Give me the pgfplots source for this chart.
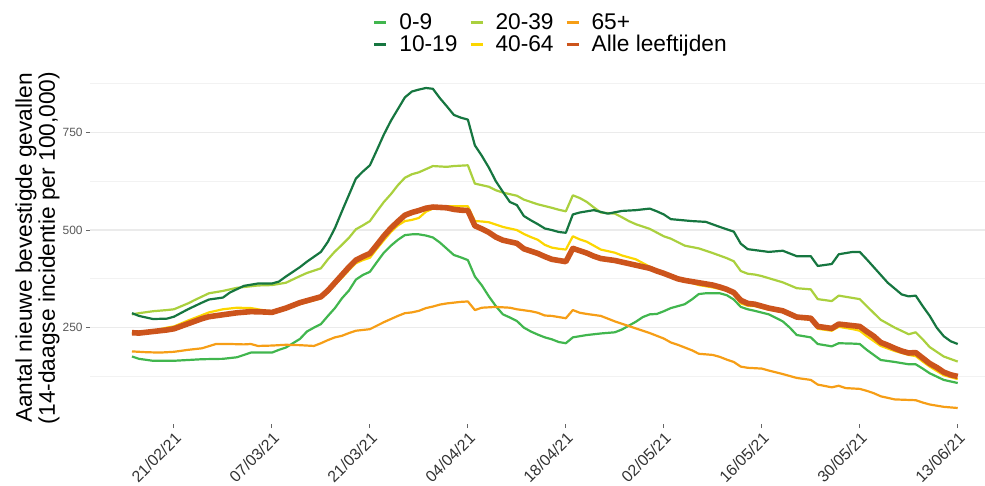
\documentclass[border=0pt]{standalone}
\usepackage{fontspec}
\setmainfont{Liberation Sans}
\usepackage{pgfplots}
\pgfplotsset{compat=1.18}
\definecolor{cA}{RGB}{65,182,78}
\definecolor{cB}{RGB}{22,118,64}
\definecolor{cC}{RGB}{170,208,62}
\definecolor{cD}{RGB}{252,214,0}
\definecolor{cE}{RGB}{246,158,22}
\definecolor{cF}{RGB}{204,84,28}
\newcommand{\pre}{\rule{5.5bp}{0pt}}
\newcommand{\post}{\rule{5.5bp}{0pt}}
\begin{document}
\begin{tikzpicture}
\begin{axis}[
  width=447.5bp, height=176bp, scale only axis,
  xmin=-6, xmax=121.9, ymin=3, ymax=905,
  axis line style={draw=none},
  xtick={6,20,34,48,62,76,90,104,118},
  xticklabels={21/02/21,07/03/21,21/03/21,04/04/21,18/04/21,02/05/21,16/05/21,30/05/21,13/06/21},
  ytick={250,500,750}, minor ytick={125,375,625,875},
  ymajorgrids, yminorgrids,
  major grid style={color=black!8, line width=0.6bp},
  minor grid style={color=black!5, line width=0.5bp},
  xtick pos=bottom, ytick pos=left, tick align=outside,
  major tick length=2bp, minor tick length=0pt,
  tick style={color=black!60, line width=0.5bp},
  /pgf/number format/assume math mode=true,
  xticklabel style={rotate=45, anchor=north east, font=\fontsize{8}{9}\selectfont, text=black!80, inner sep=1bp},
  yticklabel style={font=\fontsize{6}{7}\selectfont, text=black!65, inner sep=1.5bp},
  every axis y label/.style={at={(axis description cs:-0.0586,0.5)}, rotate=90, anchor=center, align=center, font=\fontsize{11.4}{11.5}\selectfont},
  ylabel={Aantal nieuwe bevestigde gevallen\\(14-daagse incidentie per 100,000)},
  legend columns=3,
  legend cell align=left,
  legend image code/.code={\draw[#1, line width=1.6bp, line cap=butt] (0bp,3.7bp) -- (6bp,3.7bp);},
  legend style={at={(axis description cs:0.316,1)}, anchor=south west, yshift=7.5bp, draw=none, fill=none, inner sep=0pt, outer sep=0pt,
    font=\fontsize{11.4}{13}\selectfont,
    nodes={inner sep=0.2bp, text height=8.2bp, text depth=2.4bp, anchor=base west}},
  every axis plot/.append style={line width=1.1bp, line join=round},
]
% 0-9
\addplot[cA] coordinates {(0,176)(1,170)(3,165)(6,165)(8,167)(10,169)(13,170)(15,174)(17,186)(20,186)(21,193)(22,199)(23,210)(24,221)(25,240)(26,250)(27,259)(28,280)(29,300)(30,325)(31,345)(32,373)(33,385)(34,393)(35,418)(36,442)(37,460)(38,475)(39,487)(40,489)(41,489)(42,486)(43,481)(44,468)(45,452)(46,436)(47,430)(48,423)(49,381)(50,358)(51,330)(52,305)(53,284)(54,276)(55,267)(56,250)(57,240)(58,232)(59,225)(60,220)(61,213)(62,210)(63,225)(65,231)(67,235)(69,238)(70,245)(71,255)(72,265)(73,277)(74,284)(75,285)(76,292)(77,300)(79,310)(80,322)(81,336)(82,338)(84,338)(85,333)(86,322)(87,303)(88,297)(89,293)(91,284)(93,266)(94,250)(95,231)(97,225)(98,208)(100,202)(101,210)(103,209)(104,208)(105,193)(106,180)(107,167)(109,162)(111,156)(112,156)(113,145)(114,133)(116,116)(118,108)};
\addlegendentry{\pre 0-9\post}
% 20-39
\addplot[cC] coordinates {(0,284)(1,287)(3,292)(5,295)(6,297)(8,312)(9,321)(11,338)(13,344)(15,352)(16,354)(18,358)(20,359)(22,365)(24,382)(25,390)(27,402)(28,425)(29,445)(30,462)(31,480)(32,502)(33,512)(34,523)(35,548)(36,572)(37,592)(38,615)(39,634)(40,643)(41,648)(42,656)(43,664)(45,662)(46,664)(48,666)(49,619)(50,615)(51,611)(52,602)(53,596)(54,592)(55,588)(56,578)(57,572)(58,566)(60,557)(61,552)(62,548)(63,589)(64,582)(65,572)(66,558)(67,545)(69,542)(70,533)(71,523)(72,515)(74,503)(76,484)(77,478)(79,460)(81,453)(83,441)(85,428)(86,420)(87,395)(88,388)(89,386)(90,382)(93,366)(95,351)(97,348)(98,323)(100,318)(101,332)(103,326)(104,323)(105,305)(107,270)(109,250)(111,233)(112,238)(113,220)(114,200)(116,176)(118,163)};
\addlegendentry{\pre 20-39\post}
% 65+
\addplot[cE] coordinates {(0,189)(2,187)(4,186)(6,188)(8,193)(10,197)(12,208)(14,208)(16,207)(17,208)(18,203)(20,204)(22,206)(24,205)(26,203)(27,210)(28,218)(29,225)(30,229)(31,236)(32,242)(34,246)(35,255)(36,264)(37,272)(38,280)(39,287)(40,289)(41,293)(42,300)(43,304)(44,309)(45,312)(46,314)(47,316)(48,317)(49,295)(50,301)(52,303)(54,301)(55,297)(57,292)(58,288)(59,281)(60,280)(61,277)(62,274)(63,295)(64,288)(65,285)(67,280)(69,266)(70,260)(72,248)(74,236)(75,229)(76,222)(77,212)(78,206)(80,192)(81,183)(83,180)(84,175)(85,168)(86,162)(87,150)(88,147)(90,145)(91,140)(93,131)(95,121)(97,116)(98,104)(100,97)(101,101)(102,95)(104,93)(105,88)(106,82)(107,74)(109,66)(112,64)(113,58)(114,53)(116,47)(118,44)};
\addlegendentry{\pre 65+}
% 10-19
\addplot[cB] coordinates {(0,287)(1,280)(3,272)(5,273)(6,278)(8,297)(10,314)(11,322)(13,327)(14,340)(16,357)(18,363)(20,363)(21,368)(22,381)(24,405)(25,419)(27,444)(28,470)(29,505)(30,548)(31,590)(32,632)(33,650)(34,666)(35,705)(36,745)(37,780)(38,810)(39,840)(40,855)(41,860)(42,864)(43,862)(44,838)(45,817)(46,795)(47,788)(48,783)(49,717)(50,690)(51,660)(52,625)(53,598)(54,572)(55,564)(56,536)(57,525)(58,515)(59,504)(60,500)(61,495)(62,493)(63,540)(64,545)(66,551)(68,542)(70,549)(72,551)(74,555)(75,548)(76,540)(77,528)(80,523)(82,521)(84,508)(86,496)(87,465)(88,451)(91,444)(93,447)(95,433)(97,433)(98,408)(100,413)(101,438)(103,444)(104,444)(105,425)(106,405)(107,385)(108,365)(109,350)(110,335)(111,330)(112,332)(113,305)(114,280)(115,250)(116,228)(117,215)(118,208)};
\addlegendentry{\pre 10-19\post}
% 40-64
\addplot[cD] coordinates {(0,237)(1,237)(3,242)(5,250)(6,253)(8,268)(10,282)(11,289)(13,297)(15,301)(17,300)(19,294)(20,291)(22,298)(24,310)(25,315)(27,325)(28,340)(29,360)(30,378)(31,397)(32,415)(33,423)(34,429)(35,452)(36,474)(37,495)(38,512)(39,523)(40,526)(41,531)(42,547)(43,555)(44,560)(45,561)(46,561)(48,561)(49,523)(50,522)(51,520)(52,514)(53,508)(54,504)(55,500)(56,490)(57,482)(58,475)(59,462)(60,455)(61,452)(62,450)(63,484)(64,476)(65,470)(66,460)(67,450)(69,442)(70,435)(72,425)(74,406)(75,398)(76,392)(78,375)(79,370)(81,359)(83,353)(85,345)(86,335)(87,312)(88,306)(89,305)(91,296)(93,290)(95,274)(97,270)(98,247)(100,242)(101,252)(103,246)(104,242)(105,228)(107,203)(109,190)(111,180)(112,177)(113,163)(114,150)(116,128)(118,118)};
\addlegendentry{\pre 40-64\post}
% Alle
\addplot[cF, line width=2.8bp] coordinates {(0,237)(1,236)(3,240)(5,244)(6,247)(8,260)(10,273)(11,278)(13,283)(15,288)(17,291)(19,290)(20,289)(22,300)(24,314)(25,319)(27,329)(28,345)(29,365)(30,385)(31,405)(32,423)(33,432)(34,440)(35,462)(36,485)(37,505)(38,522)(39,538)(40,545)(41,550)(42,556)(43,559)(44,558)(45,557)(46,553)(47,551)(48,550)(49,511)(50,503)(51,494)(52,482)(53,474)(54,470)(55,466)(56,452)(57,446)(58,440)(59,432)(60,425)(61,422)(62,419)(63,453)(64,447)(65,441)(66,433)(67,427)(69,422)(70,418)(72,410)(74,402)(75,395)(76,389)(78,375)(79,371)(81,365)(83,359)(84,354)(85,348)(86,340)(87,320)(88,312)(89,310)(91,300)(93,293)(94,285)(95,277)(97,274)(98,253)(100,248)(101,259)(103,255)(104,253)(105,240)(106,228)(107,212)(108,205)(109,197)(110,190)(111,185)(112,186)(113,172)(114,158)(115,148)(116,136)(117,129)(118,125)};
\addlegendentry{\pre Alle leeftijden}
\end{axis}
\pgfresetboundingbox
\path[use as bounding box] (-45bp,-31bp) rectangle (447.5bp,212bp);
\end{tikzpicture}
\end{document}
